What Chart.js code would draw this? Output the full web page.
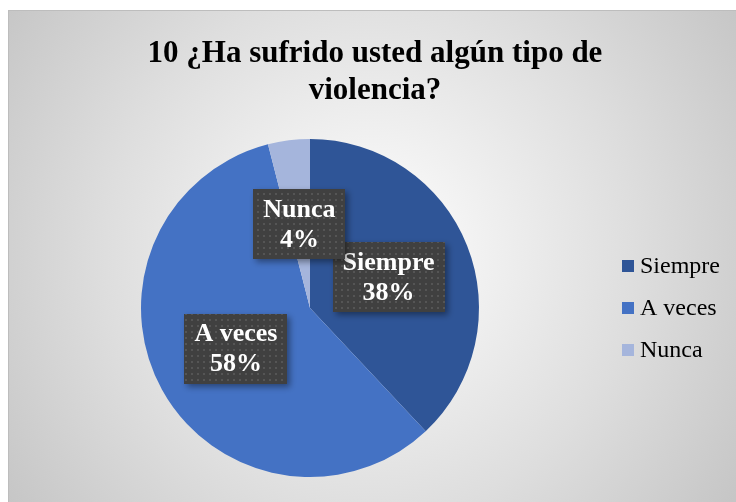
<!DOCTYPE html>
<html>
<head>
<meta charset="utf-8">
<script src="https://cdn.jsdelivr.net/npm/chart.js@4"></script>
<style>
  html, body { margin: 0; padding: 0; background: #fff; overflow: hidden; }
  #frame {
    position: absolute; left: 8px; top: 10px;
    border-top: 1px solid #bdbdbd; border-left: 1px solid #bdbdbd;
  }
  canvas { display: block; }
</style>
</head>
<body>
<div id="frame"><canvas id="pieChart" width="732" height="491"></canvas></div>
<script>
const titleLines = ["10 ¿Ha sufrido usted algún tipo de", "violencia?"];
const categories = ["Siempre", "A veces", "Nunca"];
const percents = [38, 58, 4];
const sliceColors = ["#2f5597", "#4472c4", "#a5b5dc"];

const serif = "'Liberation Serif', 'Times New Roman', serif";

// dotted fill used behind the data labels
function dotPattern(ctx) {
  const tile = document.createElement("canvas");
  tile.width = 6; tile.height = 6;
  const t = tile.getContext("2d");
  t.fillStyle = "#404040";
  t.fillRect(0, 0, 6, 6);
  t.fillStyle = "#555555";
  t.fillRect(2, 2, 2, 2);
  return ctx.createPattern(tile, "repeat");
}

const backdrop = {
  id: "backdrop",
  beforeDraw(chart) {
    const { ctx, width, height } = chart;
    const g = ctx.createRadialGradient(361, 240, 0, 361, 240, 440);
    g.addColorStop(0, "#ffffff");
    g.addColorStop(0.25, "#f1f1f1");
    g.addColorStop(0.6, "#dedede");
    g.addColorStop(1, "#c6c6c6");
    ctx.save();
    ctx.fillStyle = g;
    ctx.fillRect(0, 0, width, height);
    ctx.restore();
  }
};

const decorations = {
  id: "decorations",
  afterDraw(chart) {
    const ctx = chart.ctx;
    const meta = chart.getDatasetMeta(0);
    const area = chart.chartArea;
    const cy = (area.top + area.bottom) / 2;

    ctx.save();
    // title
    ctx.fillStyle = "#000";
    ctx.font = "bold 31px " + serif;
    ctx.textAlign = "center";
    ctx.textBaseline = "alphabetic";
    titleLines.forEach((line, i) => ctx.fillText(line, 366, 51 + i * 37));

    // legend
    ctx.font = "24px " + serif;
    ctx.textAlign = "left";
    ctx.textBaseline = "middle";
    categories.forEach((name, i) => {
      const y = cy + (i - 1) * 42;
      ctx.fillStyle = sliceColors[i];
      ctx.fillRect(613, y - 6, 12, 12);
      ctx.fillStyle = "#000";
      ctx.fillText(name, 631, y + 1);
    });

    // data labels in dark boxes
    const pattern = dotPattern(ctx);
    ctx.font = "bold 26px " + serif;
    ctx.textAlign = "center";
    meta.data.forEach((arc, i) => {
      const p = arc.getCenterPoint();
      const lines = [categories[i], percents[i] + "%"];
      const w = Math.max(...lines.map(s => ctx.measureText(s).width)) + 20;
      const h = 70;
      ctx.save();
      ctx.shadowColor = "rgba(0,0,0,0.4)";
      ctx.shadowBlur = 6;
      ctx.shadowOffsetX = 3;
      ctx.shadowOffsetY = 3;
      ctx.fillStyle = pattern;
      ctx.fillRect(Math.round(p.x - w / 2), Math.round(p.y - h / 2), Math.round(w), h);
      ctx.restore();
      ctx.fillStyle = "#fff";
      ctx.fillText(lines[0], p.x, p.y - 14);
      ctx.fillText(lines[1], p.x, p.y + 16);
    });
    ctx.restore();
  }
};

new Chart(document.getElementById("pieChart").getContext("2d"), {
  type: "pie",
  data: {
    labels: categories,
    datasets: [{
      data: percents,
      backgroundColor: sliceColors,
      borderWidth: 0
    }]
  },
  options: {
    responsive: false,
    animation: false,
    layout: { padding: { left: 132, right: 262, top: 128, bottom: 25 } },
    plugins: {
      legend: { display: false },
      title: { display: false },
      tooltip: { enabled: false }
    }
  },
  plugins: [backdrop, decorations]
});
</script>
</body>
</html>
